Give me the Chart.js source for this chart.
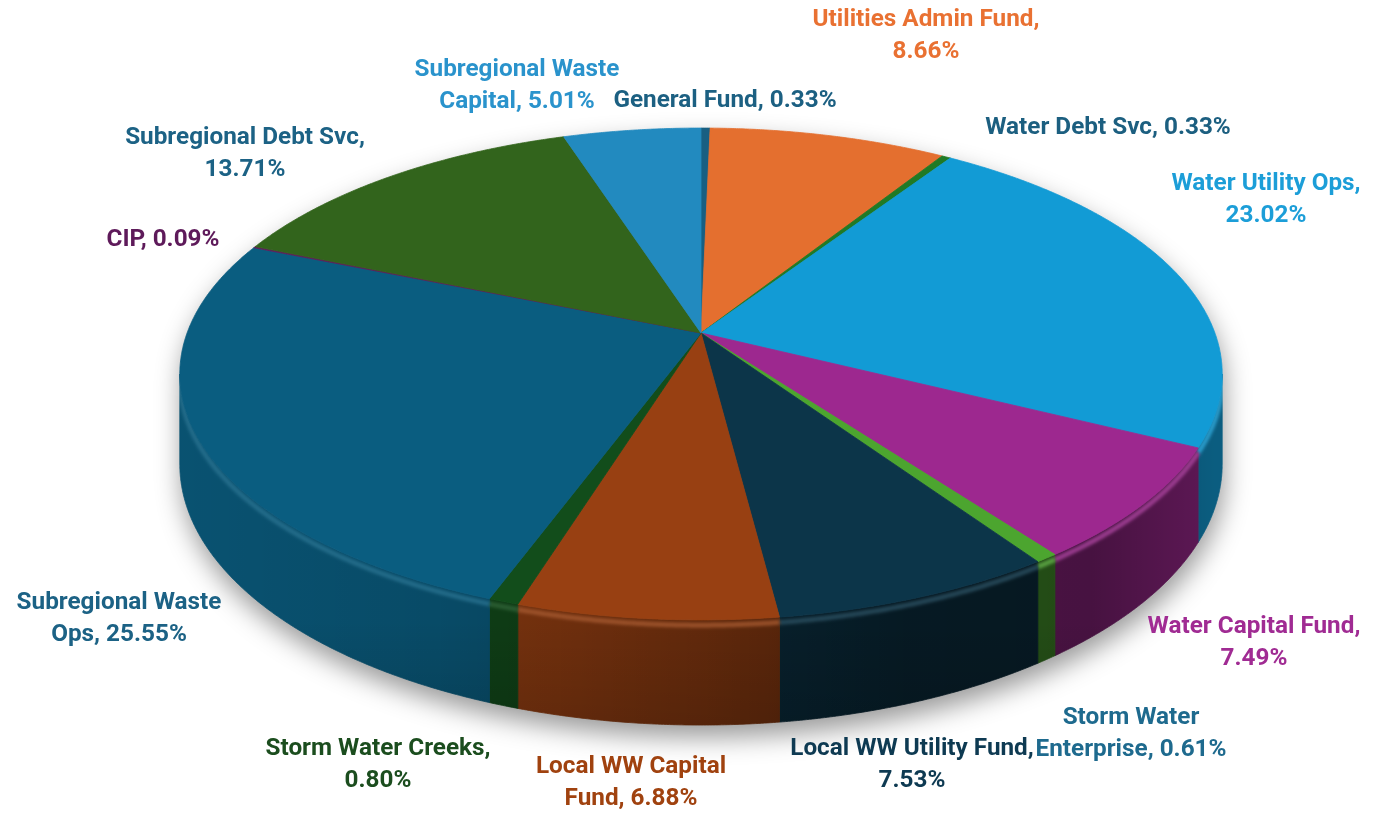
<!DOCTYPE html>
<html>
<head>
<meta charset="utf-8">
<title>Fund Distribution</title>
<script src="https://cdn.jsdelivr.net/npm/chart.js@4.4.1/dist/chart.umd.min.js"></script>
<style>
html, body { margin: 0; padding: 0; background: #ffffff; }
#wrap { width: 1391px; height: 814px; }
</style>
</head>
<body>
<div id="wrap"><canvas id="fundChart" width="1391" height="814"></canvas></div>
<script>
// Funds, clockwise from 12 o'clock
const funds = [
    'General Fund', 'Utilities Admin Fund', 'Water Debt Svc', 'Water Utility Ops',
    'Water Capital Fund', 'Storm Water Enterprise', 'Local WW Utility Fund',
    'Local WW Capital Fund', 'Storm Water Creeks', 'Subregional Waste Ops',
    'CIP', 'Subregional Debt Svc', 'Subregional Waste Capital'
];
const shares = [0.33, 8.66, 0.33, 23.02, 7.49, 0.61, 7.53, 6.88, 0.80, 25.55, 0.09, 13.71, 5.01];

const sliceColors = [
    '#185F82', '#E46F2F', '#207A25', '#129BD5', '#9D288F', '#4CA52F', '#0C3549',
    '#984012', '#124D1B', '#0A5D80', '#5F1E5B', '#32641C', '#228ABF'
];
const labelColors = [
    '#1C6082', '#E97132', '#1C5F80', '#1C9ED8', '#A02B93', '#1E6A8E', '#0E3A52',
    '#A0420F', '#1B4D1E', '#1C6285', '#5E1A5A', '#1C6285', '#2A93CC'
];

// label text split the way the chart wraps it
const labelLines = [
    ['General Fund, 0.33%'],
    ['Utilities Admin Fund,', '8.66%'],
    ['Water Debt Svc, 0.33%'],
    ['Water Utility Ops,', '23.02%'],
    ['Water Capital Fund,', '7.49%'],
    ['Storm Water', 'Enterprise, 0.61%'],
    ['Local WW Utility Fund,', '7.53%'],
    ['Local WW Capital', 'Fund, 6.88%'],
    ['Storm Water Creeks,', '0.80%'],
    ['Subregional Waste', 'Ops, 25.55%'],
    ['CIP, 0.09%'],
    ['Subregional Debt Svc,', '13.71%'],
    ['Subregional Waste', 'Capital, 5.01%']
];
// centre x / first line middle y of each label block
const labelSpots = [
    [725, 101], [926, 20], [1108, 128], [1266, 184], [1254, 627], [1131, 718], [912, 749],
    [631, 767], [378, 749], [119, 603], [163, 240], [245, 138], [517, 70]
];

// 3D view settings (relative to the pie radius Chart.js gives us)
const PERSP = 6;
const SQUASH_X = 1.713;
const SQUASH_Y = 0.797;
const DEPTH = 0.292;

function project(arc, angle, z) {
    const r = arc.outerRadius;
    const u = Math.cos(angle), v = Math.sin(angle);
    const s = PERSP / (PERSP - v);
    return [arc.x + r * SQUASH_X * u * s, arc.y + r * SQUASH_Y * v * s + r * DEPTH * z * s];
}

function tracePoints(ctx, arc, a, b, z, first) {
    const n = Math.max(2, Math.ceil(Math.abs(b - a) / 0.005));
    for (let i = 0; i <= n; i++) {
        const p = project(arc, a + (b - a) * i / n, z);
        if (first && i === 0) ctx.moveTo(p[0], p[1]); else ctx.lineTo(p[0], p[1]);
    }
}

function lighten(hex, amt) {
    const n = parseInt(hex.slice(1), 16);
    const r = (n >> 16) & 255, g = (n >> 8) & 255, b = n & 255;
    const m = c => Math.round(c + (255 - c) * amt);
    return `rgb(${m(r)},${m(g)},${m(b)})`;
}

const pie3d = {
    id: 'pie3d',
    beforeDatasetsDraw(chart) {
        const ctx = chart.ctx;
        const arcs = chart.getDatasetMeta(0).data;
        const colors = chart.data.datasets[0].backgroundColor;
        const a0 = Math.asin(1 / PERSP), a1 = Math.PI - a0;
        const ref = arcs[0];

        ctx.save();
        // outer wall, only the part facing us
        arcs.forEach((arc, i) => {
            const lo = Math.max(arc.startAngle, a0), hi = Math.min(arc.endAngle, a1);
            if (hi <= lo) return;
            ctx.beginPath();
            tracePoints(ctx, arc, lo, hi, 0, true);
            tracePoints(ctx, arc, hi, lo, 1, false);
            ctx.closePath();
            ctx.fillStyle = colors[i];
            ctx.strokeStyle = colors[i];
            ctx.lineWidth = 0.8;
            ctx.fill();
            ctx.stroke();
        });

        // darken the wall, more towards the right
        const left = project(ref, Math.PI, 0)[0], right = project(ref, 0, 0)[0];
        const w = right - left;
        const shade = ctx.createLinearGradient(left, 0, right, 0);
        shade.addColorStop(0, 'rgba(0,0,0,0.12)');
        shade.addColorStop(0.25, 'rgba(0,0,0,0.2)');
        shade.addColorStop(0.5, 'rgba(0,0,0,0.36)');
        shade.addColorStop(0.7, 'rgba(0,0,0,0.52)');
        shade.addColorStop(0.88, 'rgba(0,0,0,0.55)');
        shade.addColorStop(1, 'rgba(0,0,0,0.4)');
        ctx.globalCompositeOperation = 'source-atop';
        ctx.fillStyle = shade;
        ctx.fillRect(left - 20, 0, w + 40, chart.height);
        const topY = project(ref, Math.PI / 2, 0)[1], botY = project(ref, Math.PI / 2, 1)[1];
        const vshade = ctx.createLinearGradient(0, topY, 0, botY);
        vshade.addColorStop(0, 'rgba(0,0,0,0)');
        vshade.addColorStop(1, 'rgba(0,0,0,0.12)');
        ctx.fillStyle = vshade;
        ctx.fillRect(left - 20, 0, w + 40, chart.height);

        // rounded bevel highlight at the top of the wall (kept inside the wall)
        ctx.filter = 'blur(1.5px)';
        arcs.forEach((arc, i) => {
            const lo = Math.max(arc.startAngle, a0), hi = Math.min(arc.endAngle, a1);
            if (hi <= lo) return;
            ctx.beginPath();
            tracePoints(ctx, arc, lo, hi, 0.05, true);
            ctx.strokeStyle = lighten(colors[i], 0.12);
            ctx.globalAlpha = 0.8;
            ctx.lineWidth = 5;
            ctx.stroke();
        });
        ctx.filter = 'none';
        ctx.globalAlpha = 1;
        ctx.globalCompositeOperation = 'source-over';

        // top face
        arcs.forEach((arc, i) => {
            ctx.beginPath();
            ctx.moveTo(arc.x, arc.y);
            tracePoints(ctx, arc, arc.startAngle, arc.endAngle, 0, false);
            ctx.closePath();
            ctx.fillStyle = colors[i];
            ctx.strokeStyle = colors[i];
            ctx.lineWidth = 0.8;
            ctx.fill();
            ctx.stroke();
        });

        // soft drop shadow behind the whole pie
        ctx.globalCompositeOperation = 'destination-over';
        ctx.beginPath();
        tracePoints(ctx, ref, a0, a1, 1, true);
        tracePoints(ctx, ref, a1, a0 + 2 * Math.PI, 0, false);
        ctx.closePath();
        ctx.shadowColor = 'rgba(0,0,0,0.4)';
        ctx.shadowBlur = 26;
        ctx.shadowOffsetX = 2;
        ctx.shadowOffsetY = 12;
        ctx.fillStyle = '#ffffff';
        ctx.fill();
        ctx.restore();
        return false;
    },
    afterDraw(chart) {
        const ctx = chart.ctx;
        ctx.save();
        // size the label font so its width matches the original wrapping
        ctx.font = 'bold 20px Roboto, sans-serif';
        const size = 20 * 205 / ctx.measureText('Subregional Waste').width;
        ctx.font = `bold ${size.toFixed(1)}px Roboto, sans-serif`;
        ctx.textAlign = 'center';
        ctx.textBaseline = 'middle';
        labelLines.forEach((lines, i) => {
            ctx.fillStyle = labelColors[i];
            lines.forEach((txt, k) => {
                ctx.fillText(txt, labelSpots[i][0], labelSpots[i][1] + k * 31.5);
            });
        });
        ctx.restore();
    }
};

const fundCtx = document.getElementById('fundChart').getContext('2d');
new Chart(fundCtx, {
    type: 'pie',
    data: {
        labels: funds,
        datasets: [{
            data: shares,
            backgroundColor: sliceColors,
            borderWidth: 0
        }]
    },
    options: {
        responsive: false,
        animation: false,
        devicePixelRatio: 1,
        layout: {
            padding: { left: 11, right: 0, top: 33, bottom: 181 }
        },
        plugins: {
            legend: { display: false },
            tooltip: { enabled: false }
        }
    },
    plugins: [pie3d]
});
</script>
</body>
</html>
